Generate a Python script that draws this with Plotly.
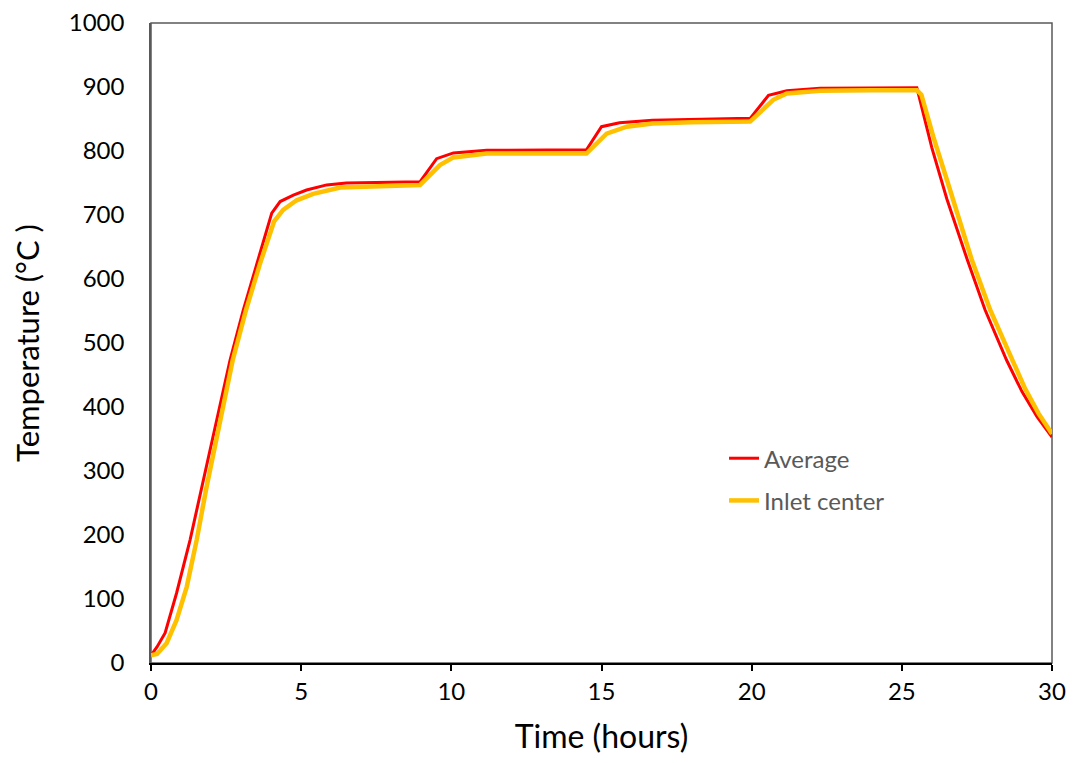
import plotly.graph_objects as go

# Average (red)
avg_t = [0, 0.2, 0.47, 0.85, 1.3, 1.74, 2.19, 2.63, 3.07, 3.52, 4.02, 4.3, 4.74, 5.18, 5.85, 6.5, 7.5, 8.96,
         9.51, 10.07, 11.18, 12.5, 14.5,
         15.0, 15.6, 16.7, 18.0, 19.95,
         20.56, 21.17, 22.28, 24.0, 25.5,
         26.0, 26.5, 27.18, 27.77, 28.49, 29.0, 29.5, 30.0]
avg_T = [12, 25, 47, 109, 192, 286, 380, 473, 551, 624, 703, 721, 731, 739, 747, 750, 751, 752,
         788, 797, 801, 801, 802,
         838, 844, 848, 849, 851,
         887, 894, 898, 899, 899,
         805, 725, 630, 552, 473, 424, 385, 353]

# Inlet center (yellow)
inl_t = [0, 0.2, 0.52, 0.85, 1.19, 1.52, 1.85, 2.3, 2.72, 3.16, 3.63, 4.1, 4.4, 4.85, 5.4, 6.3, 7.4, 8.96,
         9.62, 10.07, 11.18, 12.5, 14.5,
         15.17, 15.84, 16.7, 18.0, 19.95,
         20.72, 21.17, 22.28, 24.0, 25.5,
         25.65, 26.05, 26.5, 27.33, 27.94, 28.66, 29.1, 29.55, 30.0]
inl_T = [12, 14, 31, 67, 119, 192, 275, 380, 473, 551, 624, 690, 708, 723, 733, 743, 745, 747,
         778, 790, 796, 796, 796,
         827, 838, 843, 845, 846,
         880, 890, 894, 895, 895,
         888, 822, 755, 630, 552, 473, 429, 390, 358]

x_ticks = [0, 5, 10, 15, 20, 25, 30]
y_ticks = [0, 100, 200, 300, 400, 500, 600, 700, 800, 900, 1000]

FONT = "Lato, Carlito, Calibri, sans-serif"

fig = go.Figure()
fig.add_trace(go.Scatter(x=avg_t, y=avg_T, mode="lines", name="Average", legendgroup="a",
                         line=dict(color="#FF0000", width=3)))
fig.add_trace(go.Scatter(x=inl_t, y=inl_T, mode="lines", name="Inlet center", legendgroup="b",
                         line=dict(color="#FFC000", width=4.5)))

fig.update_layout(
    width=1058, height=747,
    margin=dict(l=143, r=14, t=15, b=92, autoexpand=False),
    paper_bgcolor="white", plot_bgcolor="white",
    font=dict(family=FONT, size=24, color="black"),
    showlegend=True,
    legend=dict(x=0.636, y=0.3545, xanchor="left", yanchor="top",
                bgcolor="rgba(0,0,0,0)", font=dict(color="#595959", size=24),
                tracegroupgap=8),
    shapes=[dict(type="rect", xref="paper", yref="paper", x0=0, y0=0, x1=1, y1=1,
                 line=dict(color="#595959", width=1.5), layer="below")],
)
fig.update_xaxes(range=[0, 30], tickvals=x_ticks, showgrid=False, zeroline=False,
                 showline=True, linecolor="black", linewidth=2,
                 ticks="outside", ticklen=6, tickcolor="black", tickwidth=1.5,
                 ticklabeloverflow="allow",
                 title=dict(text="Time (hours)", font=dict(size=32), standoff=36),
                 tickfont=dict(size=24))
fig.update_yaxes(range=[0, 1000], tickvals=y_ticks, showgrid=False, zeroline=False,
                 showline=True, linecolor="#595959", linewidth=1.5,
                 ticks="", ticklabelstandoff=20, ticklabeloverflow="allow",
                 title=dict(text="Temperature (°C )", font=dict(size=31), standoff=36),
                 tickfont=dict(size=24))

fig.write_html("out.html")
